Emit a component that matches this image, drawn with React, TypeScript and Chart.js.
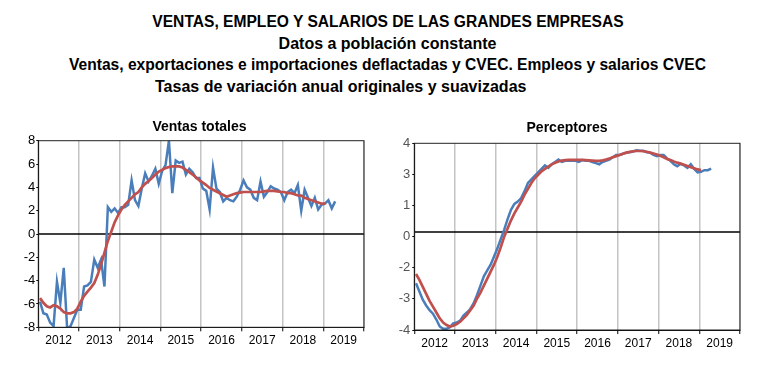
import React, { useEffect, useRef } from 'react';
import { Chart, registerables } from 'chart.js';

Chart.register(...registerables);

// ---------------- data ----------------
const START_YEAR = 2012;
const END_YEAR = 2020;
const YEAR_LABELS = ['2012', '2013', '2014', '2015', '2016', '2017', '2018', '2019'];

// Ventas totales: monthly annual rate, original (blue) and smoothed (red)
const VENTAS_ORIGINAL = [
  -5.8, -6.8, -6.9, -7.6, -7.9, -4.1, -5.9, -2.9, -8.1, -7.9, -7.2, -6.5,
  -6.5, -4.5, -4.4, -4.1, -2.2, -2.9, -2.2, -4.5, 2.3, 1.9, 2.2, 1.8,
  2.3, 2.3, 2.5, 4.6, 2.9, 2.4, 3.9, 5.2, 4.5, 5.0, 5.6, 4.3,
  5.4, 5.9, 8.0, 3.5, 6.3, 6.1, 6.2, 5.1, 5.6, 5.3, 4.8, 4.8,
  3.9, 3.7, 2.1, 5.7, 3.9, 3.6, 2.8, 3.1, 2.9, 2.8, 3.2, 3.8,
  4.6, 4.0, 3.8, 3.1, 2.9, 4.5, 3.2, 3.6, 4.1, 3.9, 3.8, 3.6,
  2.9, 3.6, 3.8, 3.5, 4.2, 2.0, 3.8, 3.1, 2.4, 3.1, 2.1, 2.5,
  2.6, 2.9, 2.2, 2.8,
];
const VENTAS_SUAVIZADA = [
  -5.5, -5.9, -6.2, -6.3, -6.1, -6.2, -6.4, -6.7, -6.8, -6.8, -6.7, -6.4,
  -5.8, -5.3, -4.95, -4.6, -4.2, -3.5, -2.6, -1.6, -0.6, 0.2, 1.0, 1.6,
  2.1, 2.5, 2.8, 3.1, 3.4, 3.6, 4.0, 4.3, 4.55, 4.8, 5.1, 5.35,
  5.5, 5.65, 5.75, 5.8, 5.8, 5.8, 5.7, 5.5, 5.3, 5.1, 4.85, 4.6,
  4.4, 4.2, 3.95, 3.8, 3.65, 3.5, 3.35, 3.2, 3.3, 3.4, 3.5, 3.55,
  3.6, 3.6, 3.6, 3.6, 3.6, 3.6, 3.65, 3.7, 3.7, 3.7, 3.65, 3.6,
  3.6, 3.5, 3.5, 3.4, 3.3, 3.3, 3.1, 3.0, 2.9, 2.8, 2.7, 2.6, 2.6,
];

// Perceptores: values on the chart's own (as drawn) vertical scale
const PERCEPTORES_ORIGINAL = [
  -2.0, -2.35, -2.7, -2.95, -3.15, -3.3, -3.55, -3.85, -3.95, -3.95, -3.88, -3.72,
  -3.68, -3.6, -3.38, -3.25, -3.1, -2.85, -2.5, -2.1, -1.7, -1.45, -1.2, -0.85,
  -0.5, -0.1, 0.3, 0.75, 1.15, 1.4, 1.5, 1.65, 1.95, 2.3, 2.45, 2.6,
  2.75, 2.9, 3.05, 2.95, 3.1, 3.2, 3.3, 3.2, 3.25, 3.25, 3.25, 3.25,
  3.2, 3.28, 3.25, 3.25, 3.2, 3.15, 3.1, 3.2, 3.25, 3.3, 3.4, 3.5,
  3.5, 3.55, 3.6, 3.62, 3.65, 3.7, 3.68, 3.68, 3.62, 3.6, 3.5, 3.45,
  3.5, 3.5, 3.35, 3.25, 3.1, 3.02, 3.12, 3.05, 2.95, 3.1, 2.9, 2.75,
  2.78, 2.85, 2.85, 2.92,
];
const PERCEPTORES_SUAVIZADA = [
  -1.6, -1.85, -2.15, -2.45, -2.75, -3.0, -3.25, -3.5, -3.68, -3.79, -3.85, -3.82,
  -3.75, -3.65, -3.5, -3.35, -3.15, -2.95, -2.65, -2.4, -2.1, -1.8, -1.5, -1.2,
  -0.85, -0.45, 0.0, 0.35, 0.7, 1.0, 1.25, 1.5, 1.8, 2.05, 2.3, 2.5,
  2.65, 2.8, 2.9, 3.0, 3.1, 3.17, 3.22, 3.26, 3.28, 3.29, 3.29, 3.29,
  3.29, 3.29, 3.28, 3.27, 3.26, 3.25, 3.25, 3.27, 3.3, 3.35, 3.4, 3.45,
  3.5, 3.55, 3.6, 3.63, 3.66, 3.67, 3.67, 3.66, 3.64, 3.6, 3.56, 3.52,
  3.47, 3.4, 3.33, 3.28, 3.22, 3.17, 3.13, 3.08, 3.03, 2.98, 2.93, 2.88, 2.85,
];

const VENTAS_Y_MIN = -8;
const VENTAS_Y_MAX = 8;
const VENTAS_Y_STEP = 2;
const VENTAS_BASELINE = 0;

const PERC_Y_MIN = -4;
const PERC_Y_MAX = 4;
const PERC_Y_LABELS = ['-4', '-3', '-2', '0', '1', '3', '4'];
const PERC_BASELINE = 0.2;

const TITLE_LINES = [
  'VENTAS, EMPLEO Y SALARIOS DE LAS GRANDES EMPRESAS',
  'Datos a población constante',
  'Ventas, exportaciones e importaciones deflactadas y CVEC. Empleos y salarios CVEC',
  'Tasas de variación anual originales y suavizadas',
];
const CHART_TITLES = ['Ventas totales', 'Perceptores'];

// ---------------- styling ----------------
const FONT = '"Liberation Sans", Arial, Helvetica, sans-serif';
const BLUE = '#4A7EBB';
const RED = '#C0504D';
const GRID = '#c4c4c4';

function monthly(values: number[]) {
  return values.map((v, i) => ({ x: START_YEAR + (i + 0.5) / 12, y: v }));
}

const framePlugin = {
  id: 'frame',
  beforeDatasetsDraw(chart: any, _args: any, opts: any) {
    const { ctx, chartArea: a, scales } = chart;
    const y = scales.y.getPixelForValue(opts.baseline);
    ctx.save();
    ctx.strokeStyle = '#000';
    ctx.lineWidth = 1.3;
    ctx.beginPath();
    ctx.moveTo(a.left, y);
    ctx.lineTo(a.right, y);
    ctx.stroke();
    ctx.restore();
  },
  afterDatasetsDraw(chart: any) {
    const { ctx, chartArea: a } = chart;
    ctx.save();
    ctx.strokeStyle = '#222';
    ctx.lineWidth = 1;
    ctx.strokeRect(a.left, a.top, a.right - a.left, a.bottom - a.top);
    ctx.restore();
  },
};

const isInt = (v: any) => typeof v === 'number' && Math.abs(v - Math.round(v)) < 1e-6;

function xAxis(height: number) {
  return {
    type: 'linear',
    min: START_YEAR,
    max: END_YEAR,
    afterBuildTicks: (scale: any) => {
      const t: any[] = [];
      for (let k = 0; k <= 2 * (END_YEAR - START_YEAR); k++) t.push({ value: START_YEAR + k / 2 });
      scale.ticks = t;
    },
    afterFit: (s: any) => {
      s.height = height;
    },
    ticks: {
      autoSkip: false,
      maxRotation: 0,
      minRotation: 0,
      padding: 2,
      color: '#000',
      font: { family: FONT, size: 12 },
      callback: (v: any) => {
        const n = Number(v);
        return isInt(n) ? '' : YEAR_LABELS[Math.floor(n) - START_YEAR];
      },
    },
    grid: {
      color: (c: any) => (isInt(c.tick && c.tick.value) ? GRID : 'rgba(0,0,0,0)'),
      lineWidth: 1.5,
      tickColor: (c: any) => (isInt(c.tick && c.tick.value) ? '#000' : 'rgba(0,0,0,0)'),
      tickLength: 4,
      tickWidth: 1,
    },
    border: { color: '#000', width: 1 },
  };
}

function makeConfig(kind: 'ventas' | 'perc'): any {
  const isV = kind === 'ventas';
  const orig = isV ? VENTAS_ORIGINAL : PERCEPTORES_ORIGINAL;
  const suav = isV ? VENTAS_SUAVIZADA : PERCEPTORES_SUAVIZADA;
  const yAxis: any = isV
    ? {
        min: VENTAS_Y_MIN,
        max: VENTAS_Y_MAX,
        ticks: { stepSize: VENTAS_Y_STEP, color: '#000', padding: 1, font: { family: FONT, size: 13 } },
        afterFit: (s: any) => {
          s.width = 38.3;
        },
      }
    : {
        min: PERC_Y_MIN,
        max: PERC_Y_MAX,
        afterBuildTicks: (scale: any) => {
          const n = PERC_Y_LABELS.length - 1;
          scale.ticks = PERC_Y_LABELS.map((_, k) => ({ value: PERC_Y_MIN + (k * (PERC_Y_MAX - PERC_Y_MIN)) / n }));
        },
        ticks: {
          color: '#555',
          padding: 2,
          font: { family: FONT, size: 13 },
          callback: (_v: any, idx: number) => PERC_Y_LABELS[idx],
        },
        afterFit: (s: any) => {
          s.width = 34.3;
        },
      };
  yAxis.grid = { drawOnChartArea: false, drawTicks: true, tickLength: 2, color: '#000' };
  yAxis.border = { color: '#000', width: 1 };

  return {
    type: 'line',
    data: {
      datasets: [
        {
          label: 'Suavizada',
          data: monthly(suav),
          borderColor: RED,
          borderWidth: 2.7,
          pointRadius: 0,
          tension: 0,
          fill: false,
        },
        {
          label: 'Original',
          data: monthly(orig),
          borderColor: BLUE,
          borderWidth: 2.5,
          pointRadius: 0,
          tension: 0,
          fill: false,
        },
      ],
    },
    options: {
      animation: false,
      responsive: false,
      devicePixelRatio: 1,
      layout: {
        padding: isV ? { left: 0, right: 16, top: 30.7, bottom: 0 } : { left: 0, right: 24, top: 33.3, bottom: 0 },
      },
      plugins: {
        legend: { display: false },
        tooltip: { enabled: false },
        title: { display: false },
        frame: { baseline: isV ? VENTAS_BASELINE : PERC_BASELINE },
      },
      scales: {
        x: xAxis(isV ? 37.7 : 35),
        y: yAxis,
      },
    },
    plugins: [framePlugin],
  };
}

function ChartCanvas({ kind, left, top, width, height }: any) {
  const ref = useRef<HTMLCanvasElement>(null);
  useEffect(() => {
    const chart = new Chart(ref.current as HTMLCanvasElement, makeConfig(kind));
    return () => chart.destroy();
  }, [kind]);
  return (
    <canvas
      ref={ref}
      width={width}
      height={height}
      style={{ position: 'absolute', left, top, width, height, display: 'block' }}
    />
  );
}

const textStyle = (extra: any): any => ({
  position: 'absolute',
  fontFamily: FONT,
  fontWeight: 'bold',
  color: '#000',
  whiteSpace: 'nowrap',
  lineHeight: '18px',
  ...extra,
});

export default function App() {
  return (
    <div style={{ position: 'absolute', left: 0, top: 0, width: 764, height: 365, background: '#fff', overflow: 'hidden' }}>
      <ChartCanvas kind="ventas" left={0} top={110} width={380} height={255} />
      <ChartCanvas kind="perc" left={380} top={110} width={384} height={255} />
      <div style={textStyle({ left: 0, width: 776, textAlign: 'center', top: 12.5, fontSize: 15.6 })}>{TITLE_LINES[0]}</div>
      <div style={textStyle({ left: 0, width: 775, textAlign: 'center', top: 35, fontSize: 16 })}>{TITLE_LINES[1]}</div>
      <div style={textStyle({ left: 0, width: 775, textAlign: 'center', top: 56, fontSize: 15.6 })}>{TITLE_LINES[2]}</div>
      <div style={textStyle({ left: 155, top: 78, fontSize: 16 })}>{TITLE_LINES[3]}</div>
      <div style={textStyle({ left: 100, width: 199, textAlign: 'center', top: 117, fontSize: 14 })}>{CHART_TITLES[0]}</div>
      <div style={textStyle({ left: 467, width: 200, textAlign: 'center', top: 118, fontSize: 14 })}>{CHART_TITLES[1]}</div>
    </div>
  );
}
